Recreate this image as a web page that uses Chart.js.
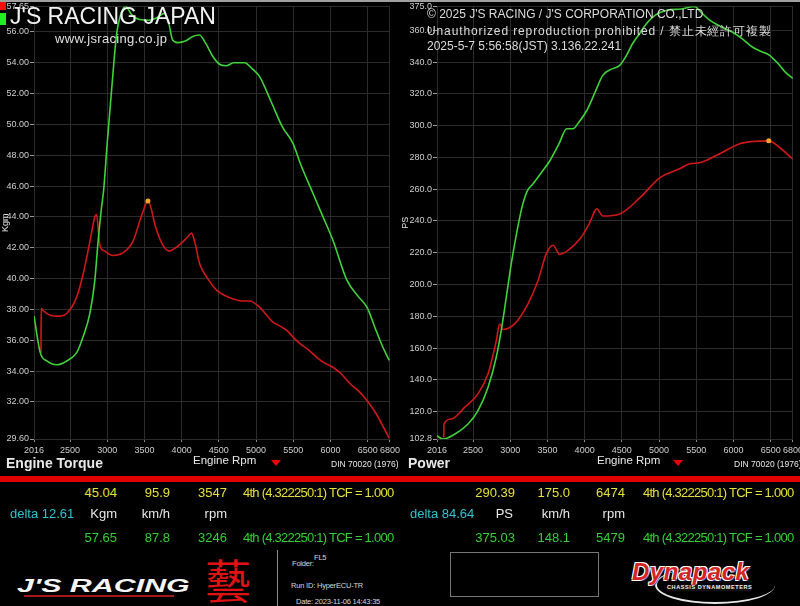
<!DOCTYPE html>
<html>
<head>
<meta charset="utf-8">
<script src="https://cdn.jsdelivr.net/npm/chart.js@4.4.1/dist/chart.umd.min.js"></script>
<style>
  body { margin: 0; background: #000; width: 800px; height: 606px; overflow: hidden; position: relative;
         font-family: "Liberation Sans", Arial, sans-serif; }
  .t { position: absolute; white-space: nowrap; line-height: 1; }
  .y { color: #e6e236; }
  .g { color: #34d034; }
  .w { color: #e8e8e8; }
  .c { color: #2fc3d3; }
  .row { font-size: 13px; }
  .tcf { letter-spacing: -0.75px; }
  .small { font-size: 7.5px; color: #d8d8d8; letter-spacing: -0.2px; }
  .copy { font-size: 12px; color: #dcdcdc; }
</style>
</head>
<body>
<div class="t" style="left:0;top:0;width:800px;height:2px;background:#a0a0a0"></div>

<div style="position:absolute;left:0;top:0;width:400px;height:458px;overflow:hidden">
  <canvas id="torque" width="403" height="458"></canvas>
</div>
<div style="position:absolute;left:400px;top:0;width:400px;height:458px;overflow:hidden">
  <canvas id="power" width="406" height="458"></canvas>
</div>

<!-- top overlays -->
<div class="t" style="left:0;top:2px;width:6px;height:8px;background:#f01010"></div>
<div class="t" style="left:0;top:13px;width:6px;height:12px;background:#22ee22"></div>
<div class="t" style="left:10px;top:5px;font-size:23px;color:#f2f2f2">J'S RACING JAPAN</div>
<div class="t" style="left:55px;top:32px;font-size:13px;color:#e0e0e0;letter-spacing:0.3px">www.jsracing.co.jp</div>

<div class="t copy" style="left:427px;top:8px">© 2025 J'S RACING / J'S CORPORATION CO.,LTD</div>
<div class="t copy" style="left:427px;top:25px;letter-spacing:0.88px">Unauthorized reproduction prohibited / 禁止未經許可複製</div>
<div class="t copy" style="left:427px;top:40px">2025-5-7 5:56:58(JST) 3.136.22.241</div>

<!-- axis captions -->
<div class="t w" style="left:6px;top:456px;font-size:14px;font-weight:bold">Engine Torque</div>
<div class="t w" style="left:193px;top:455px;font-size:11.5px">Engine Rpm</div>
<div class="t" style="left:271px;top:460px;width:0;height:0;border-left:5px solid transparent;border-right:5px solid transparent;border-top:6px solid #e00"></div>
<div class="t w" style="left:331px;top:460px;font-size:8.5px">DIN 70020 (1976)</div>

<div class="t w" style="left:408px;top:456px;font-size:14px;font-weight:bold">Power</div>
<div class="t w" style="left:597px;top:455px;font-size:11.5px">Engine Rpm</div>
<div class="t" style="left:673px;top:460px;width:0;height:0;border-left:5px solid transparent;border-right:5px solid transparent;border-top:6px solid #e00"></div>
<div class="t w" style="left:734px;top:460px;font-size:8.5px">DIN 70020 (1976)</div>

<div class="t" style="left:0;top:476px;width:800px;height:6px;background:#e00000"></div>

<!-- readouts left -->
<div class="t row y" style="right:683px;top:486px">45.04</div>
<div class="t row y" style="right:630px;top:486px">95.9</div>
<div class="t row y" style="right:573px;top:486px">3547</div>
<div class="t row y tcf" style="left:243px;top:486px">4th (4.322250:1) TCF = 1.000</div>
<div class="t row c" style="left:10px;top:507px">delta 12.61</div>
<div class="t row w" style="right:683px;top:507px">Kgm</div>
<div class="t row w" style="right:630px;top:507px">km/h</div>
<div class="t row w" style="right:573px;top:507px">rpm</div>
<div class="t row g" style="right:683px;top:531px">57.65</div>
<div class="t row g" style="right:630px;top:531px">87.8</div>
<div class="t row g" style="right:573px;top:531px">3246</div>
<div class="t row g tcf" style="left:243px;top:531px">4th (4.322250:1) TCF = 1.000</div>

<!-- readouts right -->
<div class="t row y" style="right:285px;top:486px">290.39</div>
<div class="t row y" style="right:230px;top:486px">175.0</div>
<div class="t row y" style="right:175px;top:486px">6474</div>
<div class="t row y tcf" style="left:643px;top:486px">4th (4.322250:1) TCF = 1.000</div>
<div class="t row c" style="left:410px;top:507px">delta 84.64</div>
<div class="t row w" style="right:287px;top:507px">PS</div>
<div class="t row w" style="right:230px;top:507px">km/h</div>
<div class="t row w" style="right:175px;top:507px">rpm</div>
<div class="t row g" style="right:285px;top:531px">375.03</div>
<div class="t row g" style="right:230px;top:531px">148.1</div>
<div class="t row g" style="right:175px;top:531px">5479</div>
<div class="t row g tcf" style="left:643px;top:531px">4th (4.322250:1) TCF = 1.000</div>

<!-- footer left -->
<div class="t" style="left:17px;top:576px;font-size:19px;font-weight:bold;font-style:italic;color:#f4f4f4;transform:scaleX(1.6);transform-origin:left top">J'S RACING</div>
<div class="t" style="left:24px;top:595px;width:150px;height:2px;background:#a01818"></div>
<div class="t" style="left:205px;top:555px;font-size:46px;color:#e01212;font-family:'Noto Sans CJK JP',sans-serif">藝</div>
<div class="t" style="left:277px;top:550px;width:1px;height:56px;background:#8a8a8a"></div>
<div class="t small" style="left:292px;top:560px">Folder:</div>
<div class="t small" style="left:314px;top:554px">FL5</div>
<div class="t small" style="left:291px;top:582px">Run ID: HyperECU-TR</div>
<div class="t small" style="left:296px;top:598px">Date: 2023-11-06 14:43:35</div>

<!-- footer right -->
<div class="t" style="left:450px;top:552px;width:147px;height:43px;border:1px solid #777"></div>
<div class="t" style="left:655px;top:566px;width:118px;height:36px;border-radius:50%;border-bottom:2px solid #e8e8e8;border-left:2px solid #e8e8e8"></div>
<div class="t" style="left:632px;top:560px;font-size:24px;font-weight:bold;font-style:italic;color:#d42424;letter-spacing:0.5px;text-shadow:-1px -1px 0 #fff,1px -1px 0 #fff,-1px 1px 0 #fff,1px 1px 0 #4060c0">Dynapack</div>
<div class="t" style="left:667px;top:585px;font-size:5.5px;font-weight:bold;color:#f0f0f0;letter-spacing:0.6px;background:#111">CHASSIS DYNAMOMETERS</div>

<script>
// axis ticks
const rpmTicks = [2016, 2500, 3000, 3500, 4000, 4500, 5000, 5500, 6000, 6500, 6800];
const torqueTicks = [29.6, 32, 34, 36, 38, 40, 42, 44, 46, 48, 50, 52, 54, 56, 57.65];
const powerTicks = [102.8, 120, 140, 160, 180, 200, 220, 240, 260, 280, 300, 320, 340, 360, 375];

// green torque run (Kgm)
const torqueGreenRpm = [2016, 2100, 2189, 2323, 2456, 2589, 2677, 2767, 2833, 2877, 2922, 2953, 3000, 3060, 3127, 3180, 3246, 3330, 3431, 3560, 3660, 3768, 3830, 3876, 3950, 4050, 4150, 4240, 4330, 4420, 4509, 4600, 4700, 4846, 4950, 5048, 5200, 5358, 5493, 5600, 5763, 5900, 6032, 6221, 6380, 6490, 6600, 6700, 6790];
const torqueGreen = [37.57, 35.2, 34.66, 34.41, 34.66, 35.2, 36.25, 37.74, 39.87, 42.4, 44.55, 45.8, 48.8, 52.3, 55.9, 57.1, 57.65, 57.1, 56.8, 56.75, 56.9, 57.2, 56.5, 55.5, 55.3, 55.4, 55.7, 55.8, 55.2, 54.4, 53.9, 53.8, 54.0, 54.0, 53.6, 53.1, 51.5, 49.8, 48.8, 47.4, 45.55, 44.0, 42.5, 39.9, 38.8, 38.15, 36.8, 35.6, 34.7];

// red torque run (Kgm)
const torqueRedRpm = [2110, 2113, 2144, 2233, 2367, 2456, 2589, 2677, 2767, 2833, 2856, 2900, 2967, 3078, 3211, 3344, 3477, 3547, 3656, 3744, 3833, 3920, 3997, 4080, 4132, 4180, 4240, 4350, 4469, 4580, 4684, 4800, 4913, 5048, 5130, 5223, 5330, 5412, 5500, 5587, 5700, 5816, 5930, 6032, 6150, 6261, 6380, 6490, 6580, 6665, 6730, 6790];
const torqueRed = [35.2, 38.08, 37.9, 37.63, 37.57, 37.74, 38.8, 40.3, 42.4, 44.0, 44.15, 42.2, 41.78, 41.5, 41.67, 42.4, 44.3, 45.04, 43.25, 42.2, 41.78, 42.0, 42.3, 42.7, 42.95, 42.3, 41.0, 40.0, 39.25, 38.9, 38.7, 38.55, 38.55, 38.15, 37.7, 37.2, 36.9, 36.65, 36.2, 35.8, 35.4, 34.9, 34.5, 34.25, 33.8, 33.2, 32.7, 32.1, 31.5, 30.8, 30.2, 29.65];

// green power run (PS)
const powerGreenRpm = [2016, 2097, 2253, 2433, 2567, 2702, 2813, 2880, 2948, 3015, 3095, 3160, 3230, 3305, 3420, 3533, 3650, 3761, 3842, 3920, 4029, 4140, 4244, 4360, 4472, 4560, 4647, 4740, 4835, 4950, 5103, 5300, 5479, 5560, 5680, 5830, 5989, 6120, 6258, 6380, 6486, 6600, 6700, 6795];
const powerGreen = [104.8, 102.7, 105.8, 112.2, 120.6, 135.4, 154.4, 171.3, 192.3, 213.4, 234.5, 249, 258.9, 263.3, 270.5, 277.9, 288, 298, 298, 302, 309.5, 321, 331.6, 335.5, 337.9, 344, 351.8, 358, 364.4, 369.5, 372.6, 373.4, 375.03, 371.5, 366.3, 362.3, 358.7, 354.5, 349.3, 346.5, 344.2, 339, 333.5, 329.7];

// red power run (PS)
const powerRedRpm = [2107, 2110, 2208, 2387, 2567, 2702, 2813, 2858, 2903, 3059, 3239, 3374, 3485, 3575, 3664, 3777, 3935, 4060, 4163, 4244, 4472, 4741, 5009, 5277, 5412, 5546, 5815, 6083, 6258, 6474, 6600, 6795];
const powerRed = [103.7, 112.2, 115.4, 122.7, 131.2, 143.8, 164.6, 175.2, 171.7, 175.2, 187.8, 202.5, 219.4, 224.7, 219.0, 221.5, 228.6, 238, 247.6, 243.1, 244.4, 254.5, 267.1, 272.8, 276, 276.6, 282.3, 288.6, 290.0, 290.39, 287, 279];

// peak markers on the red runs
const torquePeak = [3547, 45.04];
const powerPeak = [6474, 290.39];

Chart.defaults.font.family = "'Liberation Sans', Arial, sans-serif";
Chart.defaults.color = "#c8c8c8";

function pts(xs, ys) {
  return xs.map((x, i) => ({ x: x, y: ys[i] }));
}

function makeChart(id, greenRpm, green, redRpm, red, peak, yTicks, digits, yWidth, title, topPad) {
  const ctx = document.getElementById(id).getContext("2d");
  return new Chart(ctx, {
    type: "line",
    data: {
      datasets: [
        {
          data: [{ x: peak[0], y: peak[1] }],
          showLine: false,
          pointRadius: 2.5,
          pointBackgroundColor: "#f3a72a",
          pointBorderWidth: 0,
        },
        {
          data: pts(greenRpm, green),
          borderColor: "#3fd23a",
          borderWidth: 1.6,
          pointRadius: 0,
          cubicInterpolationMode: "monotone",
        },
        {
          data: pts(redRpm, red),
          borderColor: "#d01818",
          borderWidth: 1.6,
          pointRadius: 0,
          cubicInterpolationMode: "monotone",
        },
      ],
    },
    options: {
      responsive: false,
      animation: false,
      events: [],
      layout: { padding: { top: topPad, right: 0, left: 0, bottom: 0 } },
      plugins: { legend: { display: false }, tooltip: { enabled: false } },
      scales: {
        x: {
          type: "linear",
          min: rpmTicks[0],
          max: rpmTicks[rpmTicks.length - 1],
          afterBuildTicks: (axis) => { axis.ticks = rpmTicks.map((v) => ({ value: v })); },
          afterFit: (axis) => { axis.height = 19; },
          grid: { color: "#2c2c2c", tickLength: 3, tickColor: "#888" },
          border: { color: "#2c2c2c" },
          ticks: { autoSkip: false, maxRotation: 0, padding: 3, font: { size: 9 }, color: "#cfcfcf", callback: (v) => String(v) },
        },
        y: {
          min: yTicks[0],
          max: yTicks[yTicks.length - 1],
          afterBuildTicks: (axis) => { axis.ticks = yTicks.map((v) => ({ value: v })); },
          afterFit: (axis) => { axis.width = yWidth; },
          grid: { color: "#2c2c2c", tickLength: 4, tickColor: "#999" },
          border: { color: "#2c2c2c" },
          title: { display: true, text: title, color: "#e0e0e0", font: { size: 9 }, padding: 0 },
          ticks: { autoSkip: false, padding: 1, font: { size: 9 }, color: "#cfcfcf", callback: (v) => Number(v).toFixed(digits) },
        },
      },
    },
  });
}

makeChart("torque", torqueGreenRpm, torqueGreen, torqueRedRpm, torqueRed, torquePeak, torqueTicks, 2, 34, "Kgm", 4);
makeChart("power", powerGreenRpm, powerGreen, powerRedRpm, powerRed, powerPeak, powerTicks, 1, 37, "PS", 6);
</script>
</body>
</html>
